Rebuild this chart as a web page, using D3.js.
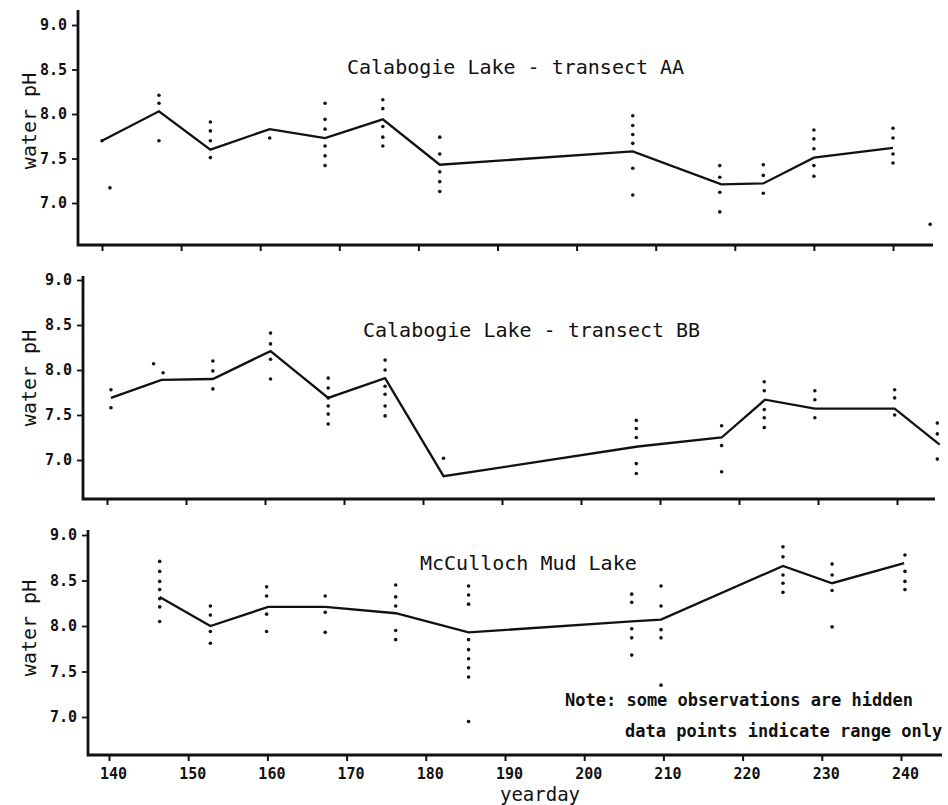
<!DOCTYPE html>
<html>
<head>
<meta charset="utf-8">
<script src="https://cdn.jsdelivr.net/npm/d3@7/dist/d3.min.js"></script>
<style>
  html, body { margin: 0; padding: 0; background: #fff; }
  svg { display: block; }
  text { font-family: "DejaVu Sans Mono", monospace; fill: #111; }
</style>
</head>
<body>
<svg id="chart" width="948" height="805"></svg>
<script>
// ---- Calabogie Lake, transect AA ----
const aaDays = [140.0, 147.2, 153.7, 161.2, 168.2, 175.5, 182.7, 207.1, 218.3, 223.6, 230.0, 240.0];
const aaMean = [7.70, 8.03, 7.60, 7.83, 7.73, 7.94, 7.43, 7.58, 7.21, 7.22, 7.51, 7.62];
const aaObsDays = [140.0, 141.0, 147.2, 153.7, 161.2, 168.2, 175.5, 182.7, 207.1, 218.1, 223.6, 230.0, 240.0, 244.7];
const aaObs = [
  [7.70], [7.17], [8.21, 8.12, 7.70], [7.91, 7.81, 7.70, 7.51], [7.73],
  [8.12, 7.94, 7.83, 7.64, 7.53, 7.42], [8.16, 8.06, 7.86, 7.74, 7.64],
  [7.74, 7.55, 7.35, 7.24, 7.13], [7.98, 7.87, 7.77, 7.67, 7.39, 7.09],
  [7.42, 7.29, 7.12, 6.90], [7.43, 7.31, 7.11], [7.82, 7.72, 7.61, 7.42, 7.30],
  [7.84, 7.73, 7.55, 7.45], [6.76]
];

// ---- Calabogie Lake, transect BB ----
const bbDays = [140.5, 146.9, 153.4, 160.7, 168.0, 175.2, 182.6, 207.2, 217.8, 223.3, 229.6, 239.7, 245.4];
const bbMean = [7.69, 7.89, 7.90, 8.21, 7.69, 7.91, 6.82, 7.15, 7.25, 7.67, 7.57, 7.57, 7.17];
const bbObsDays = [140.5, 145.9, 147.1, 153.4, 160.7, 168.0, 175.2, 182.6, 207.0, 217.8, 223.2, 229.6, 239.7, 245.1];
const bbObs = [
  [7.78, 7.58], [8.07], [7.97], [8.10, 7.99, 7.79], [8.41, 8.29, 8.12, 7.90],
  [7.91, 7.80, 7.69, 7.60, 7.51, 7.40], [8.11, 8.00, 7.82, 7.73, 7.60, 7.49],
  [7.02], [7.44, 7.35, 7.25, 6.96, 6.85], [7.38, 7.16, 6.87],
  [7.87, 7.77, 7.56, 7.47, 7.36], [7.77, 7.67, 7.47], [7.78, 7.69, 7.50],
  [7.41, 7.29, 7.01]
];

// ---- McCulloch Mud Lake ----
const mmDays = [146.4, 152.8, 160.1, 167.3, 176.2, 185.4, 206.0, 209.7, 225.1, 231.3, 240.4];
const mmMean = [8.32, 8.00, 8.21, 8.21, 8.14, 7.93, 8.05, 8.07, 8.66, 8.47, 8.69];
const mmObsDays = [146.4, 152.8, 159.9, 167.3, 176.2, 185.4, 206.0, 209.7, 225.1, 231.3, 240.5];
const mmObs = [
  [8.71, 8.60, 8.49, 8.40, 8.30, 8.21, 8.05], [8.22, 8.12, 7.94, 7.81],
  [8.43, 8.33, 8.13, 7.94], [8.33, 8.15, 7.93], [8.45, 8.32, 8.22, 7.95, 7.85],
  [8.44, 8.34, 8.24, 7.85, 7.74, 7.64, 7.54, 7.44, 6.95],
  [8.35, 8.26, 7.97, 7.87, 7.68], [8.44, 8.22, 7.96, 7.87, 7.35],
  [8.87, 8.76, 8.56, 8.47, 8.37], [8.68, 8.56, 8.39, 7.99], [8.78, 8.60, 8.49, 8.40]
];

// ---- axes and labels ----
const xTicks = [140, 150, 160, 170, 180, 190, 200, 210, 220, 230, 240];
const yTicks = [7.0, 7.5, 8.0, 8.5, 9.0];
const titles = ["Calabogie Lake - transect AA", "Calabogie Lake - transect BB", "McCulloch Mud Lake"];
const yLabel = "water pH";
const xLabel = "yearday";
const noteLines = ["Note: some observations are hidden", "data points indicate range only"];

// ---- panel geometry (pixels) ----
const panels = [
  { axisX: 78, x140: 102, x240: 893, y7: 203, y9: 25, top: 10, bottom: 245, right: 933,
    titleX: 347, titleY: 74, labelY: 121, days: aaDays, mean: aaMean, obsDays: aaObsDays, obs: aaObs },
  { axisX: 83, x140: 107, x240: 897, y7: 460, y9: 280, top: 276, bottom: 499, right: 935,
    titleX: 363, titleY: 337, labelY: 378, days: bbDays, mean: bbMean, obsDays: bbObsDays, obs: bbObs },
  { axisX: 88, x140: 109, x240: 901, y7: 717, y9: 535, top: 530, bottom: 755, right: 942,
    titleX: 420, titleY: 570, labelY: 628, days: mmDays, mean: mmMean, obsDays: mmObsDays, obs: mmObs }
];

const svg = d3.select("#chart");

panels.forEach((p, i) => {
  const x = d3.scaleLinear().domain([140, 240]).range([p.x140, p.x240]);
  const y = d3.scaleLinear().domain([7, 9]).range([p.y7, p.y9]);
  const g = svg.append("g");

  // frame: left and bottom axis lines
  g.append("path")
    .attr("d", `M${p.axisX},${p.top}V${p.bottom}H${p.right}`)
    .attr("fill", "none").attr("stroke", "#111").attr("stroke-width", 2.8)
    .attr("stroke-linejoin", "miter");

  // y axis ticks and labels
  const yAxis = d3.axisLeft(y).tickValues(yTicks).tickFormat(d3.format(".1f"))
    .tickSize(5).tickPadding(5);
  const ya = g.append("g").attr("transform", `translate(${p.axisX - 1},0)`).call(yAxis);
  ya.select(".domain").remove();
  ya.selectAll(".tick line").attr("stroke", "#111").attr("stroke-width", 1.8);
  ya.selectAll(".tick text")
    .style("font-family", '"DejaVu Sans Mono", monospace')
    .style("font-size", "15px").style("font-weight", "bold").attr("fill", "#111");

  // x axis ticks (labels on the lowest panel only)
  const xAxis = d3.axisBottom(x).tickValues(xTicks).tickSize(5)
    .tickFormat(i === panels.length - 1 ? d3.format("d") : "");
  const xa = g.append("g").attr("transform", `translate(0,${p.bottom + 1})`).call(xAxis);
  xa.select(".domain").remove();
  xa.selectAll(".tick line").attr("stroke", "#111").attr("stroke-width", 2);
  xa.selectAll(".tick text")
    .attr("dx", 4).attr("y", 12)
    .style("font-family", '"DejaVu Sans Mono", monospace')
    .style("font-size", "15px").style("font-weight", "bold").attr("fill", "#111");

  // y axis title
  g.append("text")
    .attr("transform", `translate(36,${p.labelY}) rotate(-90)`)
    .attr("text-anchor", "middle")
    .style("font-size", "20px")
    .text(yLabel);

  // panel title
  g.append("text")
    .attr("x", p.titleX).attr("y", p.titleY)
    .style("font-size", "20px")
    .text(titles[i]);

  // observation dots
  const pts = [];
  p.obsDays.forEach((d, k) => p.obs[k].forEach(v => pts.push([d, v])));
  g.append("g").selectAll("circle").data(pts).join("circle")
    .attr("cx", d => x(d[0])).attr("cy", d => y(d[1]))
    .attr("r", 1.8).attr("fill", "#111");

  // mean line
  const line = d3.line().x(d => x(d[0])).y(d => y(d[1]));
  g.append("path")
    .datum(p.days.map((d, k) => [d, p.mean[k]]))
    .attr("d", line)
    .attr("fill", "none").attr("stroke", "#111").attr("stroke-width", 2.3)
    .attr("stroke-linejoin", "miter");
});

// x axis title
svg.append("text")
  .attr("x", 540).attr("y", 801).attr("text-anchor", "middle")
  .style("font-size", "19px")
  .text(xLabel);

// note
svg.append("text").attr("x", 565).attr("y", 706)
  .style("font-size", "17px").style("font-weight", "bold")
  .text(noteLines[0]);
svg.append("text").attr("x", 625).attr("y", 737)
  .style("font-size", "17px").style("font-weight", "bold")
  .text(noteLines[1]);
</script>
</body>
</html>
